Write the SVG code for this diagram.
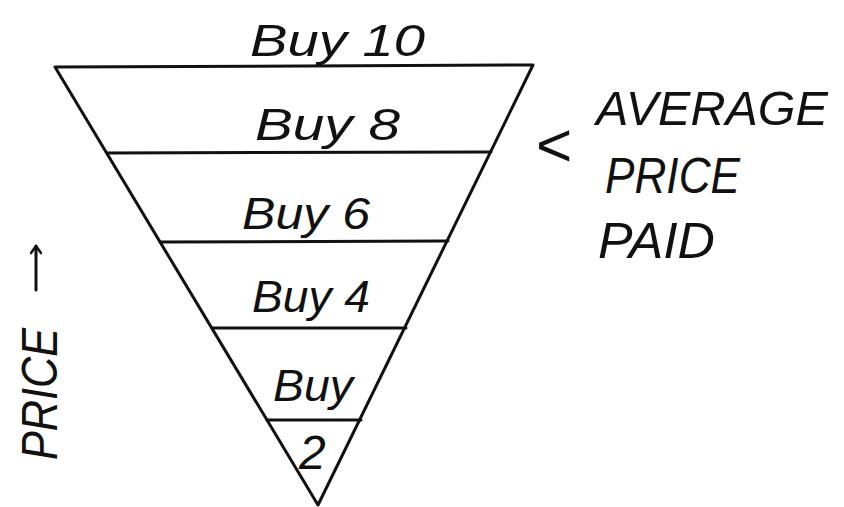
<svg xmlns="http://www.w3.org/2000/svg" width="844" height="507" viewBox="0 0 844 507">
<style>
.ln{stroke:#111;stroke-width:3;fill:none;stroke-linecap:round;stroke-linejoin:round}
.t{font-family:"Liberation Sans",Arial,sans-serif;font-style:italic;fill:#111;font-size:44px}
</style>
<defs>
<marker id="ah" viewBox="0 0 12 12" refX="10" refY="6" markerWidth="12" markerHeight="12" markerUnits="userSpaceOnUse" orient="auto">
<path d="M3,1 L10,6 L3,11" fill="none" stroke="#111" stroke-width="2.5" stroke-linecap="round" stroke-linejoin="round"/>
</marker>
</defs>
<rect width="844" height="507" fill="#fff"/>
<g id="funnel">
<path class="ln" d="M55,67 L533,65 L318,505 Z"/>
<line class="ln" x1="107" y1="153" x2="491" y2="152"/>
<line class="ln" x1="160" y1="242" x2="448" y2="241"/>
<line class="ln" x1="212" y1="328" x2="406" y2="328"/>
<line class="ln" x1="267" y1="420" x2="361" y2="420"/>
</g>
<g id="tier10"><text class="t" x="250" y="56" textLength="175" lengthAdjust="spacingAndGlyphs">Buy 10</text></g>
<g id="tier8"><text class="t" x="255" y="140" textLength="145" lengthAdjust="spacingAndGlyphs">Buy 8</text></g>
<g id="tier6"><text class="t" x="242" y="229" textLength="128" lengthAdjust="spacingAndGlyphs">Buy 6</text></g>
<g id="tier4"><text class="t" x="252" y="312" textLength="118" lengthAdjust="spacingAndGlyphs">Buy 4</text></g>
<g id="tier2">
<text class="t" x="273" y="401" textLength="80" lengthAdjust="spacingAndGlyphs">Buy</text>
<text class="t" x="299" y="469" style="font-size:48px">2</text>
</g>
<g id="average">
<text class="t" x="536" y="166" style="font-size:62px;font-style:normal">&lt;</text>
<text class="t" x="596" y="125" style="font-size:49px" textLength="232" lengthAdjust="spacingAndGlyphs">AVERAGE</text>
<text class="t" x="605" y="193" style="font-size:50px" textLength="135" lengthAdjust="spacingAndGlyphs">PRICE</text>
<text class="t" x="598" y="258" style="font-size:50px" textLength="117" lengthAdjust="spacingAndGlyphs">PAID</text>
</g>
<g id="axis">
<text class="t" transform="translate(57,460) rotate(-90)" style="font-size:50px" textLength="132" lengthAdjust="spacingAndGlyphs">PRICE</text>
</g>
<g id="connectors">
<line class="ln" x1="36" y1="290" x2="36" y2="246" marker-end="url(#ah)"/>
</g>
</svg>
